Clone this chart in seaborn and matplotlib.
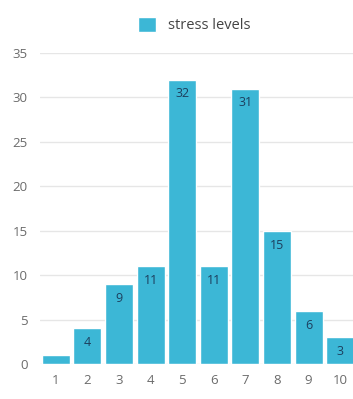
import matplotlib
matplotlib.use("Agg")
import matplotlib.pyplot as plt
import seaborn as sns
import pandas as pd

levels = ["1", "2", "3", "4", "5", "6", "7", "8", "9", "10"]
counts = [1, 4, 9, 11, 32, 11, 31, 15, 6, 3]
series_name = "stress levels"
y_ticks = [0, 5, 10, 15, 20, 25, 30, 35]

bar_color = "#3cb7d6"
label_color = "#1d3f5e"
tick_color = "#6b6b6b"

sns.set_theme(style="white")
plt.rcParams["font.family"] = ["Open Sans", "DejaVu Sans"]

df = pd.DataFrame({"level": levels, "count": counts})

fig = plt.figure(figsize=(3.53, 3.99), dpi=100)
ax = fig.add_axes([40 / 353, 35 / 399, 316 / 353, 311 / 399])

sns.barplot(data=df, x="level", y="count", color=bar_color, saturation=1,
            width=0.88, label=series_name, legend=False, ax=ax)

ax.set_xlim(-0.5, 9.5)
ax.set_ylim(0, 35)
ax.set_yticks(y_ticks)
ax.yaxis.grid(True, color="#e6e6e6", linewidth=1)
ax.set_axisbelow(True)
for s in ax.spines.values():
    s.set_visible(False)
ax.set_xlabel("")
ax.set_ylabel("")
ax.tick_params(axis="both", length=0, labelsize=9.5, colors=tick_color)
ax.tick_params(axis="y", pad=9)
ax.tick_params(axis="x", pad=7)
if ax.get_legend() is not None:
    ax.get_legend().remove()

# value labels inside the top of each bar (skip bars too short to hold text)
labels = [str(v) if v >= 3 else "" for v in counts]
ax.bar_label(ax.containers[0], labels=labels, padding=-15, color=label_color,
             fontsize=9)

handles, names = ax.get_legend_handles_labels()
fig.legend(handles, names, loc="center", bbox_to_anchor=(194 / 353, 1 - 25 / 399),
           frameon=False, fontsize=10.5, handlelength=1.25, handleheight=1.25,
           labelcolor="#444444", handletextpad=0.8)

fig.savefig("out.png", dpi=100)
